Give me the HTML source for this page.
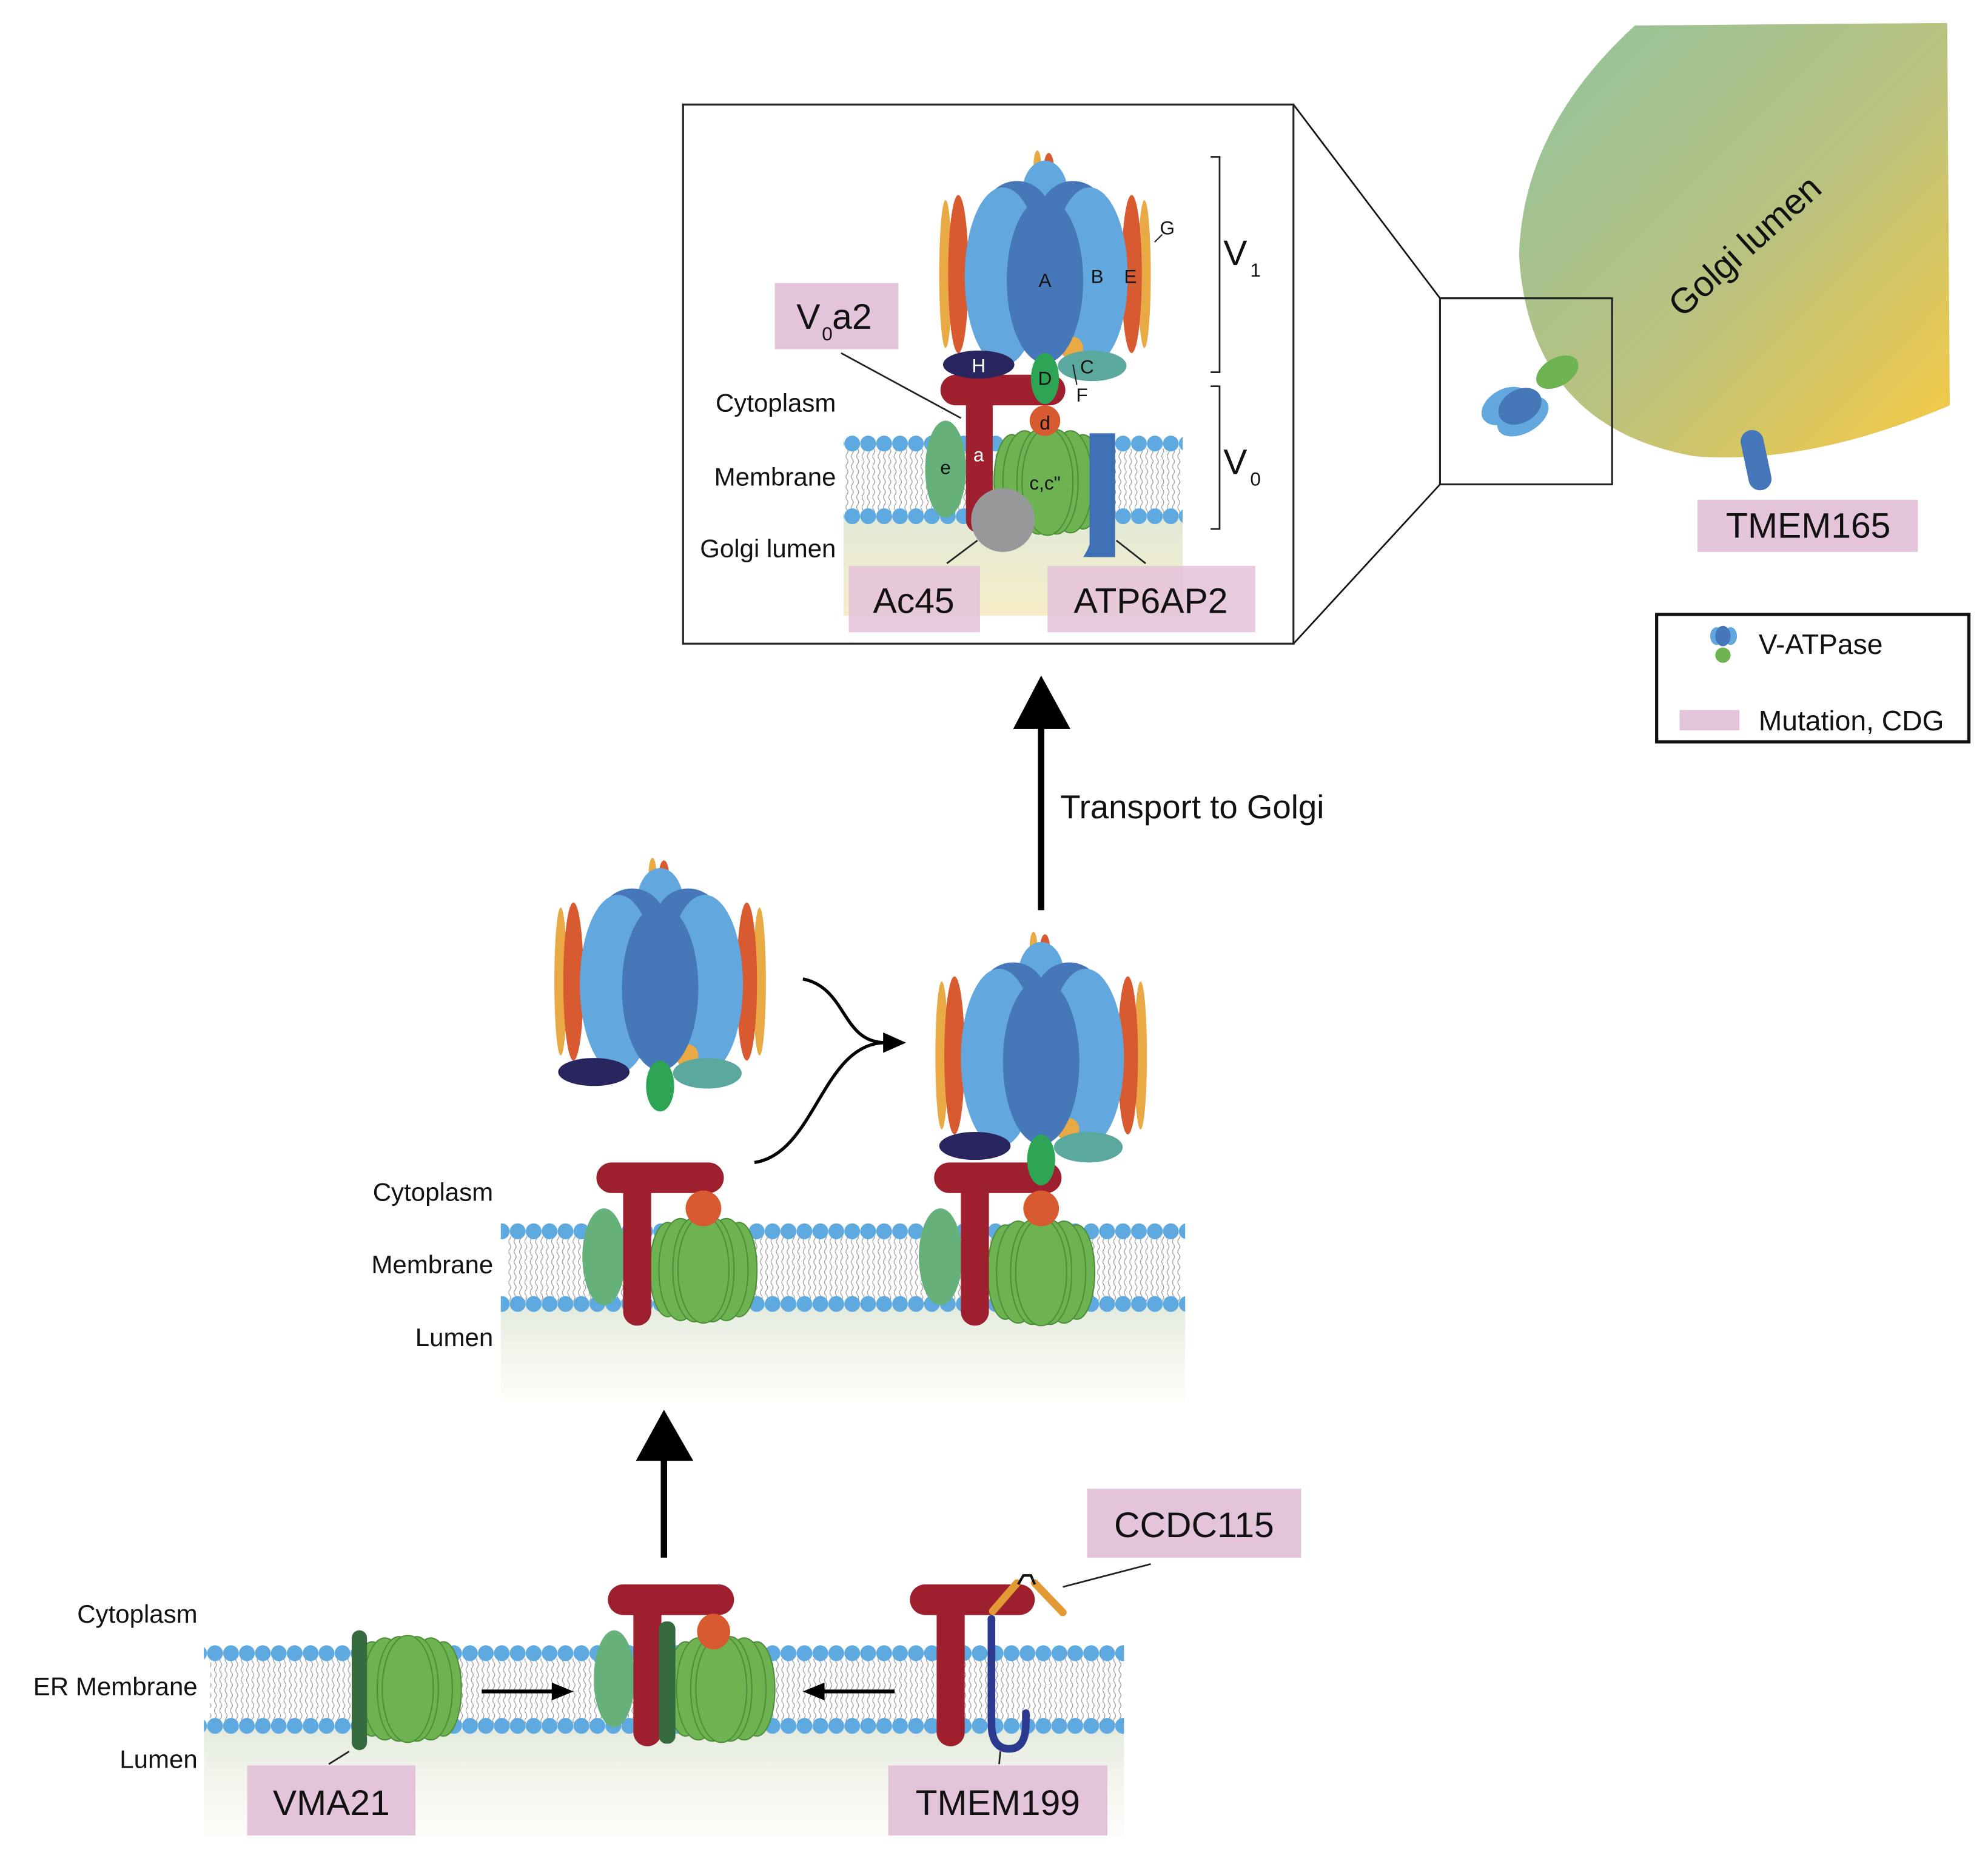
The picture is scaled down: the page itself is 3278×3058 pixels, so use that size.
<!DOCTYPE html>
<html><head><meta charset="utf-8"><style>
html,body{margin:0;padding:0;background:#fff}
svg{display:block}
text{font-family:"Liberation Sans",sans-serif;fill:#111}
</style></head><body>
<svg width="3278" height="3058" viewBox="0 0 1560 1455.3" preserveAspectRatio="none" xmlns="http://www.w3.org/2000/svg">
<defs>
<pattern id="d1" x="0" y="341" width="12.5" height="14" patternUnits="userSpaceOnUse"><circle cx="6.25" cy="7" r="6.2" fill="#5ea9e0"/></pattern>
<pattern id="d2" x="0" y="398" width="12.5" height="14" patternUnits="userSpaceOnUse"><circle cx="6.25" cy="7" r="6.2" fill="#5ea9e0"/></pattern>
<pattern id="d3" x="0" y="959" width="12.5" height="14" patternUnits="userSpaceOnUse"><circle cx="6.25" cy="7" r="6.2" fill="#5ea9e0"/></pattern>
<pattern id="d4" x="0" y="1016" width="12.5" height="14" patternUnits="userSpaceOnUse"><circle cx="6.25" cy="7" r="6.2" fill="#5ea9e0"/></pattern>
<pattern id="d5" x="0" y="1290" width="12.5" height="14" patternUnits="userSpaceOnUse"><circle cx="6.25" cy="7" r="6.2" fill="#5ea9e0"/></pattern>
<pattern id="d6" x="0" y="1347" width="12.5" height="14" patternUnits="userSpaceOnUse"><circle cx="6.25" cy="7" r="6.2" fill="#5ea9e0"/></pattern>
<pattern id="tails" x="0" y="0" width="4.2" height="8" patternUnits="userSpaceOnUse">
<path d="M1,0 Q2.6,2 1,4 Q-0.6,6 1,8" stroke="#9a9a9a" stroke-width="0.6" fill="none"/></pattern>
<linearGradient id="lum" x1="0" y1="0" x2="0" y2="1"><stop offset="0" stop-color="#e3ebdd"/><stop offset="1" stop-color="#fbfbf5" stop-opacity="0.6"/></linearGradient>
<linearGradient id="lumG" x1="0" y1="0" x2="0" y2="1"><stop offset="0" stop-color="#e2ead8"/><stop offset="1" stop-color="#f6edc6"/></linearGradient>
<linearGradient id="golgi" x1="0" y1="0" x2="1" y2="1"><stop offset="0" stop-color="#8fc39e"/><stop offset="0.55" stop-color="#bcc27e"/><stop offset="1" stop-color="#f7ca42"/></linearGradient>
<g id="v1">
<ellipse cx="-6" cy="-90" rx="3" ry="12" fill="#e9a945"/>
<ellipse cx="3" cy="-88" rx="4" ry="12" fill="#d85a30"/>
<ellipse cx="0" cy="-68" rx="18" ry="26" fill="#62a8de"/>
<ellipse cx="-22" cy="-52" rx="26" ry="26" fill="#4577b9"/>
<ellipse cx="22" cy="-52" rx="26" ry="26" fill="#4577b9"/>
<ellipse cx="-78" cy="-5" rx="5" ry="58" fill="#e9a945"/>
<ellipse cx="78" cy="-5" rx="5" ry="58" fill="#e9a945"/>
<ellipse cx="-68" cy="-5" rx="8" ry="62" fill="#d85a30"/>
<ellipse cx="68" cy="-5" rx="8" ry="62" fill="#d85a30"/>
<ellipse cx="-33" cy="-3" rx="30" ry="70" fill="#62a8de"/>
<ellipse cx="35" cy="-3" rx="30" ry="70" fill="#62a8de"/>
<ellipse cx="21" cy="53" rx="9" ry="9" fill="#e9a945"/>
<ellipse cx="37" cy="67" rx="27" ry="12" fill="#5aa89e"/>
<ellipse cx="0" cy="0" rx="30" ry="65" fill="#4577b9"/>
<ellipse cx="-52" cy="66" rx="28" ry="11" fill="#29265f"/>
<ellipse cx="0" cy="77" rx="11" ry="20" fill="#2ea455"/>
</g>
<g id="ring" fill="#6db352" stroke="#4f8f3a" stroke-width="1">
<ellipse cx="-28" cy="0" rx="14" ry="37"/>
<ellipse cx="28" cy="0" rx="14" ry="37"/>
<ellipse cx="-18" cy="0" rx="17" ry="40"/>
<ellipse cx="18" cy="0" rx="17" ry="40"/>
<ellipse cx="-7" cy="0" rx="17" ry="41"/>
<ellipse cx="7" cy="0" rx="17" ry="41"/>
<ellipse cx="0" cy="0" rx="20" ry="42"/>
</g>
</defs>

<path d="M1283,20 L1528,18 L1530,318 Q1420,365 1330,358 Q1200,335 1192,200 Q1195,100 1283,20 Z" fill="url(#golgi)"/>
<text x="0" y="0" font-size="28" transform="translate(1320,250) rotate(-42)">Golgi lumen</text>
<rect x="1130" y="234" width="135" height="146" fill="none" stroke="#222" stroke-width="1.5"/>
<line x1="1015" y1="82" x2="1130" y2="234" stroke="#111" stroke-width="1.3"/>
<line x1="1015" y1="505" x2="1130" y2="380" stroke="#111" stroke-width="1.3"/>
<g transform="translate(1190,318) rotate(-30)">
<ellipse cx="-8" cy="-4" rx="20" ry="13" fill="#62a8de"/>
<ellipse cx="0" cy="10" rx="22" ry="13" fill="#62a8de"/>
<ellipse cx="2" cy="2" rx="18" ry="13" fill="#4577b9"/>
</g>
<ellipse cx="1222" cy="292" rx="18" ry="11" fill="#6db352" transform="rotate(-30 1222 292)"/>
<rect x="1369" y="337" width="18" height="48" rx="9" fill="#4577b9" transform="rotate(-12 1378 361)"/>
<rect x="1332" y="392" width="173" height="41" fill="#e4c4da"/>
<text x="1419" y="422" font-size="28" text-anchor="middle">TMEM165</text>

<rect x="1300" y="482" width="245" height="100" fill="#fff" stroke="#111" stroke-width="2.5"/>
<ellipse cx="1347" cy="499" rx="5" ry="7" fill="#62a8de"/><ellipse cx="1358" cy="499" rx="5" ry="7" fill="#62a8de"/>
<ellipse cx="1352" cy="499" rx="6" ry="8" fill="#4577b9"/>
<circle cx="1352" cy="514" r="6" fill="#6db352"/>
<text x="1380" y="513" font-size="22">V-ATPase</text>
<rect x="1318" y="557" width="47" height="16" fill="#e4c4da"/>
<text x="1380" y="573" font-size="22">Mutation, CDG</text>

<rect x="536" y="82" width="479" height="423" fill="#fff" stroke="#222" stroke-width="1.5"/>
<rect x="662" y="405" width="266" height="78" fill="url(#lumG)"/>
<rect x="662" y="352" width="266" height="52" fill="url(#tails)"/>
<rect x="662" y="341" width="266" height="14" fill="url(#d1)"/>
<rect x="662" y="398" width="266" height="14" fill="url(#d2)"/>
<use href="#ring" x="822" y="378"/>
<ellipse cx="742" cy="368" rx="16" ry="38" fill="#66b07a"/>
<rect x="738" y="294" width="98" height="24" rx="12" fill="#9e1f2e"/>
<rect x="758" y="300" width="21" height="118" rx="10" fill="#9e1f2e"/>
<circle cx="820" cy="330" r="12" fill="#d85a30"/>
<use href="#v1" x="820" y="220"/>
<circle cx="787" cy="408" r="25" fill="#97989a"/>
<path d="M855,340 L875,340 L875,437 L850,437 Q858,425 858,410 L858,350 Z" fill="#3f6fb5"/>
<rect x="855" y="340" width="20" height="97" fill="#3f6fb5"/>
<text x="820" y="225" font-size="15" text-anchor="middle">A</text>
<text x="861" y="222" font-size="15" text-anchor="middle">B</text>
<text x="887" y="222" font-size="15" text-anchor="middle">E</text>
<text x="916" y="184" font-size="15" text-anchor="middle">G</text>
<line x1="906" y1="190" x2="912" y2="184" stroke="#222" stroke-width="1"/>
<text x="768" y="292" font-size="15" text-anchor="middle" style="fill:#fff">H</text>
<text x="820" y="302" font-size="15" text-anchor="middle">D</text>
<text x="853" y="293" font-size="15" text-anchor="middle">C</text>
<line x1="842" y1="286" x2="845" y2="302" stroke="#222" stroke-width="1"/>
<text x="849" y="315" font-size="15" text-anchor="middle">F</text>
<text x="820" y="337" font-size="15" text-anchor="middle">d</text>
<text x="768" y="362" font-size="15" text-anchor="middle" style="fill:#fff">a</text>
<text x="742" y="372" font-size="15" text-anchor="middle">e</text>
<text x="820" y="384" font-size="15" text-anchor="middle">c,c"</text>
<path d="M950,123 L957,123 L957,292 L950,292" fill="none" stroke="#222" stroke-width="1.3"/>
<path d="M950,303 L957,303 L957,415 L950,415" fill="none" stroke="#222" stroke-width="1.3"/>
<text x="960" y="208" font-size="28">V</text><text x="981" y="217" font-size="15">1</text>
<text x="960" y="372" font-size="28">V</text><text x="981" y="381" font-size="15">0</text>
<rect x="608" y="222" width="97" height="52" fill="#e4c4da"/>
<text x="625" y="258" font-size="28">V</text><text x="645" y="267" font-size="15">0</text><text x="653" y="258" font-size="28">a2</text>
<line x1="660" y1="277" x2="754" y2="328" stroke="#222" stroke-width="1.3"/>
<text x="656" y="323" font-size="20" text-anchor="end">Cytoplasm</text>
<text x="656" y="381" font-size="20" text-anchor="end">Membrane</text>
<text x="656" y="437" font-size="20" text-anchor="end">Golgi lumen</text>
<rect x="666" y="444" width="103" height="52" fill="#e4c4da" fill-opacity="0.9"/>
<text x="717" y="481" font-size="28" text-anchor="middle">Ac45</text>
<line x1="743" y1="442" x2="767" y2="424" stroke="#222" stroke-width="1.3"/>
<rect x="822" y="444" width="163" height="52" fill="#e4c4da" fill-opacity="0.9"/>
<text x="903" y="481" font-size="28" text-anchor="middle">ATP6AP2</text>
<line x1="876" y1="424" x2="899" y2="442" stroke="#222" stroke-width="1.3"/>

<line x1="817" y1="714" x2="817" y2="565" stroke="#000" stroke-width="5"/>
<polygon points="795,572 840,572 817,530" fill="#000"/>
<text x="832" y="642" font-size="26">Transport to Golgi</text>

<rect x="393" y="1024" width="537" height="75" fill="url(#lum)"/>
<rect x="398" y="970" width="530" height="52" fill="url(#tails)"/>
<rect x="393" y="959" width="537" height="14" fill="url(#d3)"/>
<rect x="393" y="1016" width="537" height="14" fill="url(#d4)"/>
<text x="387" y="942" font-size="20" text-anchor="end">Cytoplasm</text>
<text x="387" y="999" font-size="20" text-anchor="end">Membrane</text>
<text x="387" y="1056" font-size="20" text-anchor="end">Lumen</text>
<use href="#ring" x="552" y="996"/>
<ellipse cx="474" cy="986" rx="17" ry="38" fill="#66b07a"/>
<rect x="468" y="912" width="100" height="24" rx="12" fill="#9e1f2e"/>
<rect x="489" y="918" width="22" height="122" rx="11" fill="#9e1f2e"/>
<circle cx="552" cy="948" r="14" fill="#d85a30"/>
<use href="#v1" x="518" y="775"/>
<use href="#ring" x="817" y="998"/>
<ellipse cx="738" cy="986" rx="17" ry="38" fill="#66b07a"/>
<rect x="733" y="912" width="100" height="24" rx="12" fill="#9e1f2e"/>
<rect x="754" y="918" width="22" height="122" rx="11" fill="#9e1f2e"/>
<circle cx="817" cy="948" r="14" fill="#d85a30"/>
<use href="#v1" x="817" y="833"/>
<path d="M630,768 C665,775 660,818 695,818" fill="none" stroke="#000" stroke-width="2.5"/>
<path d="M592,912 C640,905 645,818 695,818" fill="none" stroke="#000" stroke-width="2.5"/>
<polygon points="693,810 711,818 693,826" fill="#000"/>

<line x1="521" y1="1222" x2="521" y2="1140" stroke="#000" stroke-width="5"/>
<polygon points="499,1146 544,1146 521,1106" fill="#000"/>

<rect x="160" y="1355" width="722" height="85" fill="url(#lum)"/>
<rect x="165" y="1301" width="715" height="52" fill="url(#tails)"/>
<rect x="160" y="1290" width="722" height="14" fill="url(#d5)"/>
<rect x="160" y="1347" width="722" height="14" fill="url(#d6)"/>
<text x="155" y="1273" font-size="20" text-anchor="end">Cytoplasm</text>
<text x="155" y="1330" font-size="20" text-anchor="end">ER Membrane</text>
<text x="155" y="1387" font-size="20" text-anchor="end">Lumen</text>
<use href="#ring" x="320" y="1325"/>
<rect x="276" y="1279" width="12" height="94" rx="6" fill="#356b3e"/>
<use href="#ring" x="566" y="1325"/>
<ellipse cx="482" cy="1317" rx="16" ry="38" fill="#66b07a"/>
<rect x="477" y="1243" width="99" height="24" rx="12" fill="#9e1f2e"/>
<rect x="497" y="1248" width="22" height="122" rx="11" fill="#9e1f2e"/>
<rect x="517" y="1272" width="13" height="96" rx="6" fill="#356b3e"/>
<ellipse cx="560" cy="1280" rx="13" ry="14" fill="#d85a30"/>
<line x1="378" y1="1327" x2="435" y2="1327" stroke="#000" stroke-width="3"/>
<polygon points="433,1320 450,1327 433,1334" fill="#000"/>
<line x1="702" y1="1327" x2="645" y2="1327" stroke="#000" stroke-width="3"/>
<polygon points="647,1320 630,1327 647,1334" fill="#000"/>
<rect x="714" y="1243" width="98" height="24" rx="12" fill="#9e1f2e"/>
<rect x="735" y="1248" width="22" height="122" rx="11" fill="#9e1f2e"/>
<path d="M778,1270 L778,1352 Q778,1372 792,1372 Q805,1372 805,1352 L805,1344" fill="none" stroke="#2b3a8f" stroke-width="6" stroke-linecap="round"/>
<path d="M779,1264 L798,1242" stroke="#e39a35" stroke-width="6" stroke-linecap="round"/>
<path d="M812,1242 L834,1265" stroke="#e39a35" stroke-width="6" stroke-linecap="round"/>
<path d="M799,1243 L803,1236 L809,1236 L812,1243" fill="none" stroke="#111" stroke-width="2"/>
<line x1="834" y1="1245" x2="903" y2="1227" stroke="#222" stroke-width="1.3"/>
<rect x="853" y="1168" width="168" height="54" fill="#e4c4da"/>
<text x="937" y="1206" font-size="28" text-anchor="middle">CCDC115</text>
<rect x="194" y="1385" width="132" height="55" fill="#e4c4da"/>
<text x="260" y="1424" font-size="28" text-anchor="middle">VMA21</text>
<line x1="258" y1="1384" x2="274" y2="1374" stroke="#222" stroke-width="1.3"/>
<rect x="697" y="1385" width="172" height="55" fill="#e4c4da"/>
<text x="783" y="1424" font-size="28" text-anchor="middle">TMEM199</text>
<line x1="784" y1="1384" x2="785" y2="1374" stroke="#222" stroke-width="1.3"/>
</svg>
</body></html>
